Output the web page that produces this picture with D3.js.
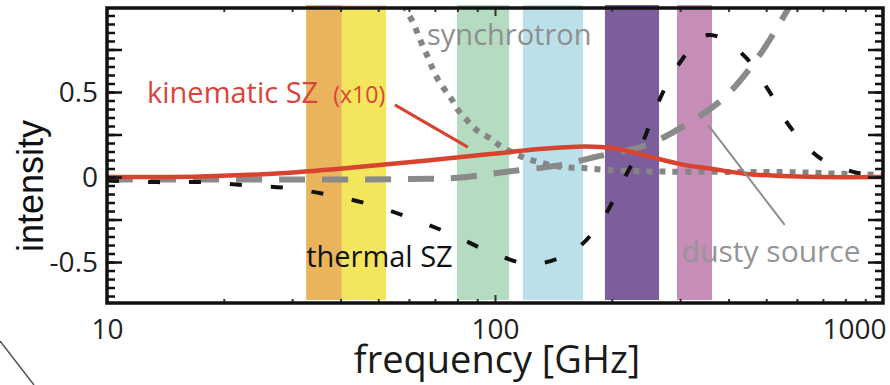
<!DOCTYPE html>
<html>
<head>
<meta charset="utf-8">
<script src="https://cdn.jsdelivr.net/npm/d3@7/dist/d3.min.js"></script>
<style>
  html, body { margin: 0; padding: 0; background: #fff; }
  svg { display: block; }
</style>
</head>
<body>
<svg id="chart" width="890" height="385"></svg>
<script>
// ---------------- data ----------------
const bandLow    = [32.6, 40.3, 79.8, 118, 192, 294.5];
const bandHigh   = [40.3, 52.4, 108.7, 168.6, 264.7, 362.5];
const bandColors = ["#EAB45C", "#F4E65C", "#B5DCC0", "#BBE0EA", "#7B5E9B", "#C68DB6"];

const kszFreq  = [10, 17.4, 29.6, 53.6, 97.2, 130, 171, 202, 223, 247, 271, 300, 364, 445, 545, 688, 1000];
const kszValue = [0, 0.003, 0.025, 0.076, 0.135, 0.165, 0.18, 0.17, 0.149, 0.124, 0.1, 0.076, 0.047, 0.018, 0.006, 0.0, 0.0];

const tszFreq  = [10, 13.5, 17.4, 22.4, 29.1, 37.5, 48.2, 61.5, 78, 98.5, 125.3, 160.6, 188.6, 212.8, 239.8, 263.1, 296.6, 354.7, 436.4, 506.4, 576.3, 687.6, 860.6, 1000];
const tszValue = [-0.02, -0.03, -0.03, -0.047, -0.065, -0.106, -0.165, -0.247, -0.341, -0.447, -0.512, -0.429, -0.253, -0.03, 0.2, 0.435, 0.659, 0.835, 0.718, 0.512, 0.294, 0.112, 0.024, 0.008];

const syncFreq  = [56, 59.4, 61.6, 63.4, 65.3, 67.3, 69.3, 71.4, 74.4, 77.5, 80.3, 84.6, 89.7, 96.8, 104.4, 117.6, 132.4, 149.1, 167.8, 200, 250, 400, 600, 750, 1000];
const syncValue = [1.08, 0.97, 0.906, 0.835, 0.765, 0.7, 0.63, 0.57, 0.51, 0.453, 0.394, 0.335, 0.276, 0.229, 0.176, 0.118, 0.082, 0.059, 0.053, 0.04, 0.033, 0.03, 0.028, 0.02, 0.012];

const dustFreq  = [10, 30, 60, 80, 106, 147, 183, 247, 322, 391, 475, 550, 600];
const dustValue = [-0.015, -0.015, -0.012, -0.005, 0.03, 0.07, 0.12, 0.19, 0.33, 0.47, 0.70, 0.93, 1.08];

const xTickLabels = [10, 100, 1000];
const yTickLabels = [-0.5, 0, 0.5];
const xMinorTicks = [20, 30, 40, 50, 60, 70, 80, 90, 200, 300, 400, 500, 600, 700, 800, 900];

// ---------------- layout ----------------
const svg = d3.select("#chart");
const L = 107, R = 883, T = 8, B = 303;
const x = d3.scaleLog().domain([10, 1000]).range([L, R]);
const y = d3.scaleLinear().domain([-0.741, 0.994]).range([B, T]);

svg.append("defs").append("clipPath").attr("id", "plotclip")
  .append("rect").attr("x", L).attr("y", T).attr("width", R - L).attr("height", B - T);

// bands
svg.append("g").selectAll("rect").data(bandLow).join("rect")
  .attr("x", d => x(d))
  .attr("y", T - 3)
  .attr("width", (d, i) => x(bandHigh[i]) - x(d))
  .attr("height", B - T)
  .attr("fill", (d, i) => bandColors[i]);

const plot = svg.append("g").attr("clip-path", "url(#plotclip)");
const lineGen = d3.line().x(d => x(d[0])).y(d => y(d[1])).curve(d3.curveCatmullRom.alpha(0.5));

// synchrotron (dotted)
plot.append("path").datum(d3.zip(syncFreq, syncValue))
  .attr("d", lineGen).attr("fill", "none")
  .attr("stroke", "#858585").attr("stroke-width", 6)
  .attr("stroke-dasharray", "6,7");

// dusty (long dashes)
plot.append("path").datum(d3.zip(dustFreq, dustValue))
  .attr("d", lineGen).attr("fill", "none")
  .attr("stroke", "#8a8a8a").attr("stroke-width", 6)
  .attr("stroke-dasharray", "26,17");

// thermal SZ (short black dashes)
plot.append("path").datum(d3.zip(tszFreq, tszValue))
  .attr("d", lineGen).attr("fill", "none")
  .attr("stroke", "#111").attr("stroke-width", 4)
  .attr("stroke-dasharray", "12,29");

// kinematic SZ (solid red)
plot.append("path").datum(d3.zip(kszFreq, kszValue))
  .attr("d", lineGen).attr("fill", "none")
  .attr("stroke", "#D8432F").attr("stroke-width", 4.5);

// ---------------- axes ----------------
const yMinor = d3.range(-0.7, 0.96, 0.05).map(v => Math.round(v * 100) / 100);
const yMajor = [-0.5, -0.25, 0, 0.25, 0.5, 0.75];

function styleAxis(g) {
  g.select(".domain").remove();
  g.selectAll(".tick line").attr("stroke", "#111").attr("stroke-width", 2.5);
}
svg.append("g").attr("transform", `translate(${L},0)`)
  .call(d3.axisRight(y).tickValues(yMinor).tickSize(8).tickFormat(""))
  .call(styleAxis);
svg.append("g").attr("transform", `translate(${L},0)`)
  .call(d3.axisRight(y).tickValues(yMajor).tickSize(15).tickFormat(""))
  .call(styleAxis);
svg.append("g").attr("transform", `translate(${R},0)`)
  .call(d3.axisLeft(y).tickValues(yMinor).tickSize(8).tickFormat(""))
  .call(styleAxis);
svg.append("g").attr("transform", `translate(${R},0)`)
  .call(d3.axisLeft(y).tickValues(yMajor).tickSize(15).tickFormat(""))
  .call(styleAxis);

function styleX(g) {
  g.select(".domain").remove();
  g.selectAll(".tick line").attr("stroke", "#333").attr("stroke-width", 2);
}
svg.append("g").attr("transform", `translate(0,${B})`)
  .call(d3.axisTop(x).tickValues(xMinorTicks).tickSize(4).tickFormat(""))
  .call(styleX);
svg.append("g").attr("transform", `translate(0,${B})`)
  .call(d3.axisTop(x).tickValues([100]).tickSize(8).tickFormat(""))
  .call(styleX);
svg.append("g").attr("transform", `translate(0,${T})`)
  .call(d3.axisBottom(x).tickValues(xMinorTicks).tickSize(4).tickFormat(""))
  .call(styleX);
svg.append("g").attr("transform", `translate(0,${T})`)
  .call(d3.axisBottom(x).tickValues([100]).tickSize(8).tickFormat(""))
  .call(styleX);

// frame
svg.append("rect").attr("x", L).attr("y", T).attr("width", R - L).attr("height", B - T)
  .attr("fill", "none").attr("stroke", "#111").attr("stroke-width", 3.5);

// tick labels
const yLab = svg.append("g").attr("transform", `translate(${L},0)`)
  .call(d3.axisLeft(y).tickValues(yTickLabels).tickSize(0).tickPadding(9)
    .tickFormat(d => d === 0 ? "0" : String(d)));
yLab.select(".domain").remove();
yLab.selectAll("text").attr("font-family", "'Open Sans', sans-serif")
  .attr("font-size", 28).attr("fill", "#222").attr("dy", "0.35em");

const xLab = svg.append("g").attr("transform", `translate(0,${B})`)
  .call(d3.axisBottom(x).tickValues(xTickLabels).tickSize(0).tickPadding(0)
    .tickFormat(d3.format("d")));
xLab.select(".domain").remove();
xLab.selectAll("text").attr("font-family", "'Open Sans', sans-serif")
  .attr("font-size", 28).attr("fill", "#222").attr("dy", null).attr("y", 36);
xLab.selectAll(".tick").filter(d => d === 1000).select("text")
  .attr("text-anchor", "end").attr("x", 3);

// axis titles
svg.append("text").attr("x", (L + R) / 2 + 2).attr("y", 373)
  .attr("text-anchor", "middle").attr("font-family", "'Open Sans', sans-serif")
  .attr("font-size", 38).attr("fill", "#1a1a1a").text("frequency [GHz]");
svg.append("text").attr("transform", "translate(43,186) rotate(-90)")
  .attr("text-anchor", "middle").attr("font-family", "'Liberation Sans', Arial, sans-serif")
  .attr("font-size", 36).attr("fill", "#111").text("intensity");

// annotations
const labelFont = "'Open Sans', sans-serif";
svg.append("text").attr("x", x(12.68)).attr("y", y(0.435))
  .attr("font-family", labelFont).attr("font-size", 29).attr("fill", "#D9443A")
  .text("kinematic SZ");
svg.append("text").attr("x", x(38.3)).attr("y", y(0.435))
  .attr("font-family", labelFont).attr("font-size", 23).attr("fill", "#D9443A")
  .text("(x10)");
svg.append("line").attr("x1", x(55.2)).attr("y1", y(0.424)).attr("x2", x(85.1)).attr("y2", y(0.176))
  .attr("stroke", "#D8432F").attr("stroke-width", 3);

svg.append("text").attr("x", x(66.8)).attr("y", y(0.776))
  .attr("font-family", labelFont).attr("font-size", 29).attr("fill", "#8f8f8f")
  .text("synchrotron");

svg.append("text").attr("x", x(32.6)).attr("y", y(-0.53))
  .attr("font-family", labelFont).attr("font-size", 29).attr("fill", "#111")
  .text("thermal SZ");

svg.append("line").attr("x1", x(354)).attr("y1", y(0.306)).attr("x2", x(558)).attr("y2", y(-0.282))
  .attr("stroke", "#8c8c8c").attr("stroke-width", 2);
svg.append("text").attr("x", x(303)).attr("y", y(-0.5))
  .attr("font-family", labelFont).attr("font-size", 30).attr("fill", "#959595")
  .text("dusty source");

// stray diagonal stroke at lower left
svg.append("line").attr("x1", 0).attr("y1", 341).attr("x2", 34).attr("y2", 385)
  .attr("stroke", "#555").attr("stroke-width", 1.5);
</script>
</body>
</html>
